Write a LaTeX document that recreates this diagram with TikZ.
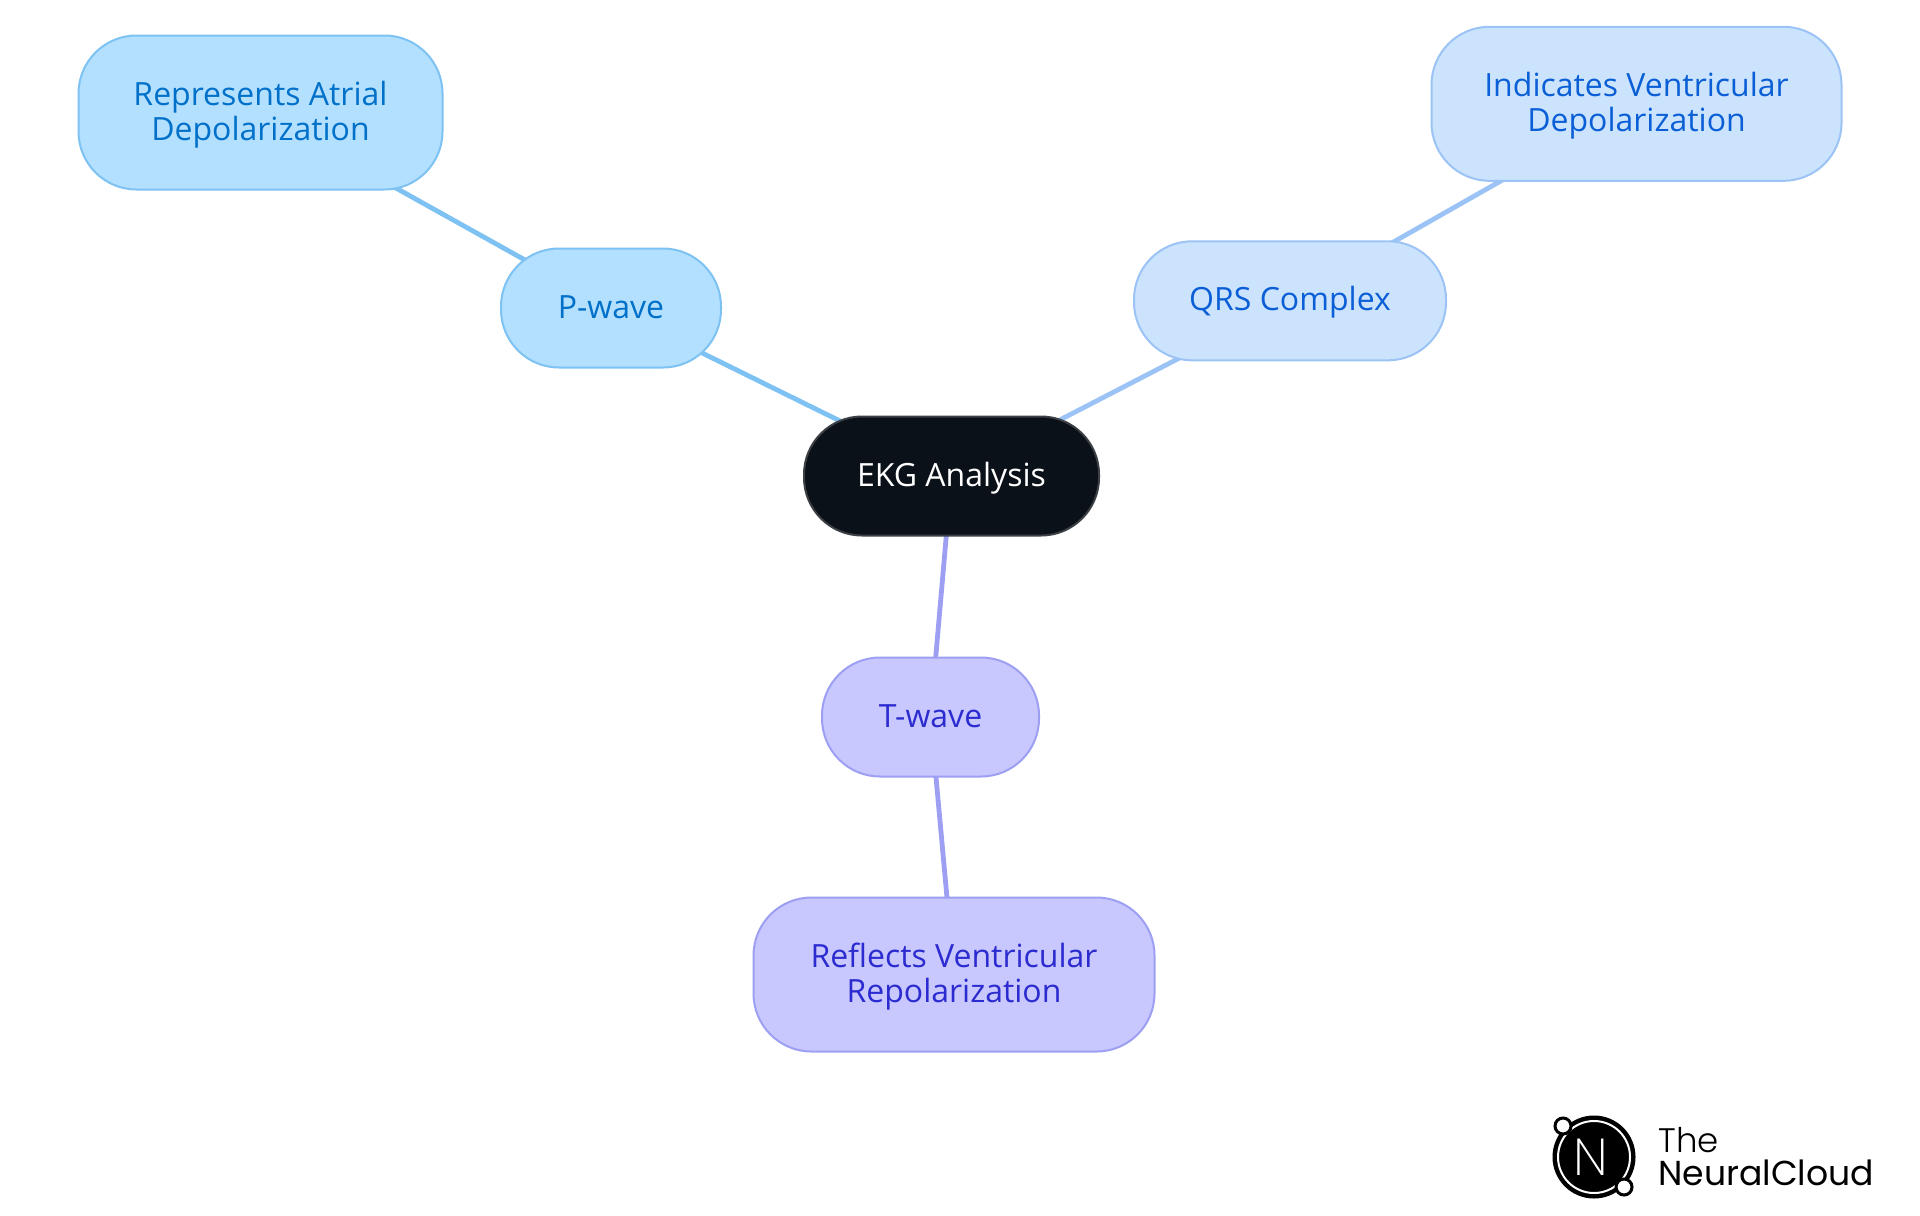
\documentclass[tikz,border=0pt]{standalone}
\usepackage{fontspec}
\setmainfont{Open Sans}
\newfontfamily\logofont{Poppins Light}
\newfontfamily\logoname{Poppins}
\newfontfamily\logoletter{Poppins ExtraLight}
\usepackage{xcolor}
\usetikzlibrary{positioning,backgrounds}
\definecolor{rootfill}{HTML}{0B1119}
\definecolor{rootdraw}{HTML}{3C3F44}
\definecolor{pfill}{HTML}{B3E0FF}
\definecolor{pdraw}{HTML}{7DC2F2}
\definecolor{ptext}{HTML}{0070C9}
\definecolor{qfill}{HTML}{CCE3FD}
\definecolor{qdraw}{HTML}{9CC3F5}
\definecolor{qtext}{HTML}{0B5FD6}
\definecolor{tfill}{HTML}{C8C8FF}
\definecolor{tdraw}{HTML}{9C9FF2}
\definecolor{ttext}{HTML}{2B2BCF}
\newcommand{\leadstrut}{\rule{0pt}{14.5pt}}
\tikzset{
  mapnode/.style={rounded corners=29pt,align=center,outer sep=0pt,inner sep=0pt,line width=1pt,font=\fontsize{16}{17.5}\selectfont},
  shortnode/.style={mapnode,minimum height=59.5pt,text height=14pt,text depth=4pt},
  leafnode/.style={mapnode,minimum height=77pt},
  rootnode/.style={shortnode,draw=rootdraw,fill=rootfill,text=white,minimum width=147.5pt},
  pstyle/.style={draw=pdraw,fill=pfill,text=ptext},
  qstyle/.style={draw=qdraw,fill=qfill,text=qtext},
  tstyle/.style={draw=tdraw,fill=tfill,text=ttext},
  link/.style={line width=2.4pt},
  logotext/.style={anchor=base west,inner sep=0pt,text=black}
}
\begin{document}
\begin{tikzpicture}[x=0.5pt,y=-0.5pt]
    \useasboundingbox (0,0) rectangle (1920,1215);
    \node[rootnode] (root) at (951.5,476) {EKG Analysis};
    \node[shortnode,pstyle,minimum width=110pt,above left=24.5pt and 41.5pt of root] (pwave) {P-wave};
    \node[shortnode,qstyle,minimum width=156pt,above right=28.1pt and 17.5pt of root] (qrs) {QRS Complex};
    \node[shortnode,tstyle,minimum width=108.5pt,below=61pt of root,xshift=-10.5pt] (twave) {T-wave};
    \node[leafnode,pstyle,minimum width=182pt,above left=29.5pt and 29.25pt of pwave] (atrial) {\leadstrut Represents Atrial\\Depolarization};
    \node[leafnode,qstyle,minimum width=205pt,above right=30.25pt and -7.25pt of qrs] (ventri) {\leadstrut Indicates Ventricular\\Depolarization};
    \node[leafnode,tstyle,minimum width=200.5pt,below=60.5pt of twave,xshift=11.75pt] (repol) {\leadstrut Reflects Ventricular\\Repolarization};
    \begin{pgfonlayer}{background}
      \draw[link,draw=pdraw] (root.center) -- (pwave.center);
      \draw[link,draw=pdraw] (pwave.center) -- (atrial.center);
      \draw[link,draw=qdraw] (root.center) -- (qrs.center);
      \draw[link,draw=qdraw] (qrs.center) -- (ventri.center);
      \draw[link,draw=tdraw] (root.center) -- (twave.center);
      \draw[link,draw=tdraw] (twave.center) -- (repol.center);
    \end{pgfonlayer}
    % logo
    \fill[black] (1594,1157) circle (41.5);
    \draw[white,line width=1pt] (1594,1157) circle (36);
    \draw[black,fill=white,line width=1.5pt] (1563,1126) circle (8);
    \draw[black,fill=white,line width=1.5pt] (1624,1187) circle (8);
    \node[logotext,text=white,font=\logoletter\fontsize{26}{26}\selectfont] (logon) at (1573,1175) {N};
    \node[logotext,font=\logofont\fontsize{17}{17}\selectfont] (logothe) at (1658,1152) {The};
    \node[logotext,font=\logoname\fontsize{17.3}{17.3}\selectfont] (logotitle) at (1658,1185) {NeuralCloud};
  \end{tikzpicture}
\end{document}
